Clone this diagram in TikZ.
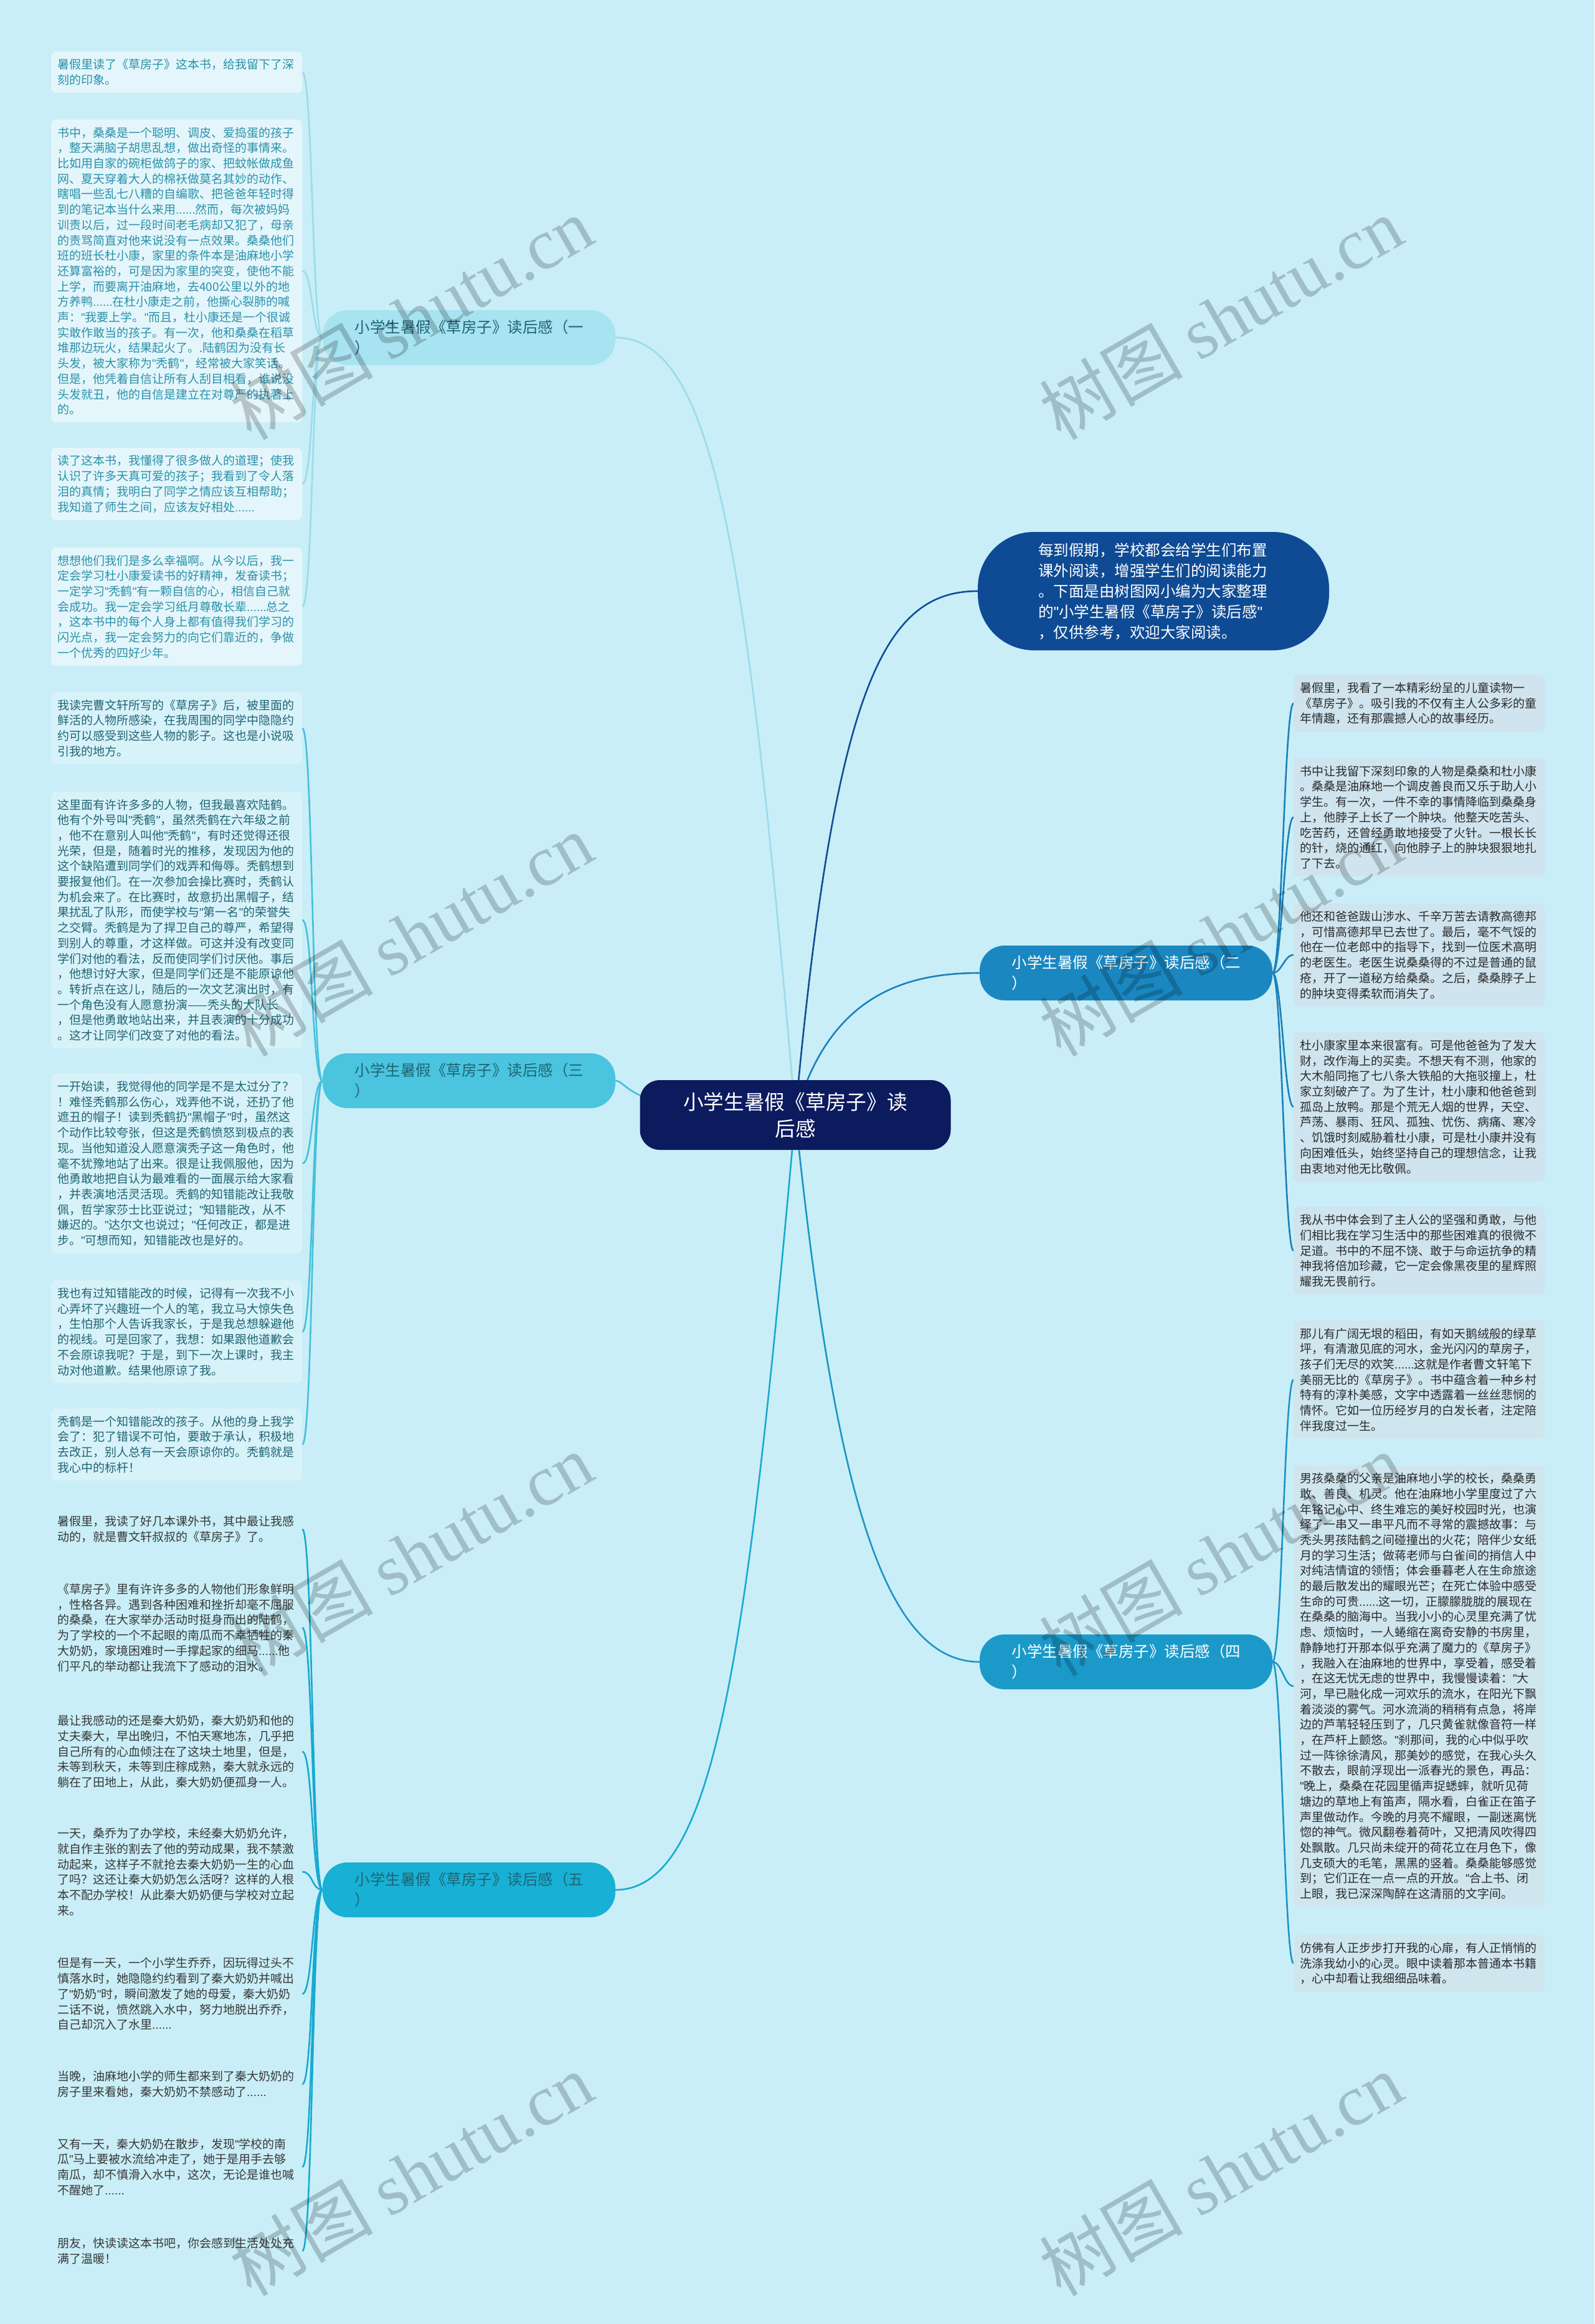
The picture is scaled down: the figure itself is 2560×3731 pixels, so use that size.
\documentclass[tikz,border=0pt]{standalone}
\usepackage{fontspec}
\setmainfont{Noto Sans CJK SC}
\newfontfamily\wmserif{Liberation Serif}
\newfontfamily\latinf{Liberation Sans}
\newcommand\q{{\latinf"}}
\newcommand\el{{\latinf......}}
\pgfdeclarelayer{bglayer}
\pgfdeclarelayer{edgelayer}
\pgfdeclarelayer{wmlayer}
\pgfsetlayers{bglayer,edgelayer,main,wmlayer}
\definecolor{bgc}{HTML}{C9EEF7}
\definecolor{fillA}{HTML}{E4F6FB}
\definecolor{textA}{HTML}{2A91AA}
\definecolor{fillC}{HTML}{D8F2F9}
\definecolor{textC}{HTML}{1F6573}
\definecolor{textE}{HTML}{383838}
\definecolor{fillB}{HTML}{CFE4EE}
\definecolor{fillD}{HTML}{CFE6EF}
\definecolor{textBD}{HTML}{2B2B2B}
\definecolor{brA}{HTML}{A7E3F1}
\definecolor{brC}{HTML}{4AC4DF}
\definecolor{brE}{HTML}{18B0D5}
\definecolor{brB}{HTML}{1A87C1}
\definecolor{brD}{HTML}{1B99C9}
\definecolor{intro}{HTML}{0E4B94}
\definecolor{cen}{HTML}{0C1A5E}
\definecolor{edA}{HTML}{9BDBEA}
\definecolor{edC}{HTML}{45C0DC}
\definecolor{edE}{HTML}{16AAD1}
\definecolor{edB}{HTML}{1A80BA}
\definecolor{edD}{HTML}{1B94C7}
\definecolor{edI}{HTML}{0F4D94}
\newcommand\leaffont{\fontsize{19}{24.7}\selectfont}
\newcommand\brfont{\fontsize{24.5}{33}\selectfont}
\newcommand\cenfont{\fontsize{32.7}{43}\selectfont}
\newcommand\wmfont{\fontsize{115}{120}\selectfont}
\begin{document}
\begin{tikzpicture}[x=1pt,y=-1pt,
  leaf/.style={anchor=west, text width=383pt, align=left, inner xsep=10pt, inner ysep=12pt, rounded corners=8pt, font=\leaffont},
  leafA/.style={leaf, fill=fillA, text=textA},
  leafC/.style={leaf, fill=fillC, text=textC},
  leafE/.style={leaf, text=textE},
  leafB/.style={leaf, fill=fillB, text=textBD},
  leafD/.style={leaf, fill=fillD, text=textBD},
  branch/.style={text width=367pt, align=left, minimum width=470pt, minimum height=88pt, rounded corners=40pt, font=\brfont, inner sep=0pt},
  edge/.style={line width=2.6pt},
  wm/.style={rotate=30, text=black, opacity=0.2, font=\wmfont, inner sep=0pt}
]
\useasboundingbox (0,0) rectangle (2560,3731);
\begin{pgfonlayer}{bglayer}
\fill[bgc] (0,0) rectangle (2560,3731);
\end{pgfonlayer}

% central and intro nodes
\node[fill=cen, text=white, font=\cenfont, align=center, minimum width=499pt, minimum height=112pt, rounded corners=32pt] (c) at (1277,1790) {小学生暑假《草房子》读\\后感};
\node[fill=intro, text=white, font=\brfont, text width=370pt, align=left, minimum width=564pt, minimum height=190pt, rounded corners=90pt, inner sep=0pt] (intro) at (1852,949) {每到假期，学校都会给学生们布置\\课外阅读，增强学生们的阅读能力\\。下面是由树图网小编为大家整理\\的\q{}小学生暑假《草房子》读后感\q{}\\，仅供参考，欢迎大家阅读。};

% branches
\node[branch, fill=brA, text=textC] (b1) at (753,542) {小学生暑假《草房子》读后感（一\\）};
\node[branch, fill=brC, text=textC] (b3) at (753,1735) {小学生暑假《草房子》读后感（三\\）};
\node[branch, fill=brE, text=textC] (b5) at (753,3034) {小学生暑假《草房子》读后感（五\\）};
\node[branch, fill=brB, text=white] (b2) at (1808,1562) {小学生暑假《草房子》读后感（二\\）};
\node[branch, fill=brD, text=white] (b4) at (1808,2668) {小学生暑假《草房子》读后感（四\\）};

% left leaves, section one
\node[leafA] (l1) at (82,116) {暑假里读了《草房子》这本书，给我留下了深\\刻的印象。};
\node[leafA] (l2) at (82,435) {书中，桑桑是一个聪明、调皮、爱捣蛋的孩子\\，整天满脑子胡思乱想，做出奇怪的事情来。\\比如用自家的碗柜做鸽子的家、把蚊帐做成鱼\\网、夏天穿着大人的棉袄做莫名其妙的动作、\\瞎唱一些乱七八糟的自编歌、把爸爸年轻时得\\到的笔记本当什么来用\el{}然而，每次被妈妈\\训责以后，过一段时间老毛病却又犯了，母亲\\的责骂简直对他来说没有一点效果。桑桑他们\\班的班长杜小康，家里的条件本是油麻地小学\\还算富裕的，可是因为家里的突变，使他不能\\上学，而要离开油麻地，去400公里以外的地\\方养鸭\el{}在杜小康走之前，他撕心裂肺的喊\\声：\q{}我要上学。\q{}而且，杜小康还是一个很诚\\实敢作敢当的孩子。有一次，他和桑桑在稻草\\堆那边玩火，结果起火了。.陆鹤因为没有长\\头发，被大家称为\q{}秃鹤\q{}，经常被大家笑话。\\但是，他凭着自信让所有人刮目相看，谁说没\\头发就丑，他的自信是建立在对尊严的执著上\\的。};
\node[leafA] (l3) at (82,777) {读了这本书，我懂得了很多做人的道理；使我\\认识了许多天真可爱的孩子；我看到了令人落\\泪的真情；我明白了同学之情应该互相帮助；\\我知道了师生之间，应该友好相处\el};
\node[leafA] (l4) at (82,974) {想想他们我们是多么幸福啊。从今以后，我一\\定会学习杜小康爱读书的好精神，发奋读书；\\一定学习\q{}秃鹤\q{}有一颗自信的心，相信自己就\\会成功。我一定会学习纸月尊敬长辈\el{}总之\\，这本书中的每个人身上都有值得我们学习的\\闪光点，我一定会努力的向它们靠近的，争做\\一个优秀的四好少年。};

% section three
\node[leafC] (l5) at (82,1169) {我读完曹文轩所写的《草房子》后，被里面的\\鲜活的人物所感染，在我周围的同学中隐隐约\\约可以感受到这些人物的影子。这也是小说吸\\引我的地方。};
\node[leafC] (l6) at (82,1477) {这里面有许许多多的人物，但我最喜欢陆鹤。\\他有个外号叫\q{}秃鹤\q{}，虽然秃鹤在六年级之前\\，他不在意别人叫他\q{}秃鹤\q{}，有时还觉得还很\\光荣，但是，随着时光的推移，发现因为他的\\这个缺陷遭到同学们的戏弄和侮辱。秃鹤想到\\要报复他们。在一次参加会操比赛时，秃鹤认\\为机会来了。在比赛时，故意扔出黑帽子，结\\果扰乱了队形，而使学校与\q{}第一名\q{}的荣誉失\\之交臂。秃鹤是为了捍卫自己的尊严，希望得\\到别人的尊重，才这样做。可这并没有改变同\\学们对他的看法，反而使同学们讨厌他。事后\\，他想讨好大家，但是同学们还是不能原谅他\\。转折点在这儿，随后的一次文艺演出时，有\\一个角色没有人愿意扮演——秃头的大队长\\，但是他勇敢地站出来，并且表演的十分成功\\。这才让同学们改变了对他的看法。};
\node[leafC] (l7) at (82,1868) {一开始读，我觉得他的同学是不是太过分了？\\！难怪秃鹤那么伤心，戏弄他不说，还扔了他\\遮丑的帽子！读到秃鹤扔\q{}黑帽子\q{}时，虽然这\\个动作比较夸张，但这是秃鹤愤怒到极点的表\\现。当他知道没人愿意演秃子这一角色时，他\\毫不犹豫地站了出来。很是让我佩服他，因为\\他勇敢地把自认为最难看的一面展示给大家看\\，并表演地活灵活现。秃鹤的知错能改让我敬\\佩，哲学家莎士比亚说过；\q{}知错能改，从不\\嫌迟的。\q{}达尔文也说过；\q{}任何改正，都是进\\步。\q{}可想而知，知错能改也是好的。};
\node[leafC] (l8) at (82,2138) {我也有过知错能改的时候，记得有一次我不小\\心弄坏了兴趣班一个人的笔，我立马大惊失色\\，生怕那个人告诉我家长，于是我总想躲避他\\的视线。可是回家了，我想：如果跟他道歉会\\不会原谅我呢？于是，到下一次上课时，我主\\动对他道歉。结果他原谅了我。};
\node[leafC] (l9) at (82,2319) {秃鹤是一个知错能改的孩子。从他的身上我学\\会了：犯了错误不可怕，要敢于承认，积极地\\去改正，别人总有一天会原谅你的。秃鹤就是\\我心中的标杆！};

% section five
\node[leafE] (l10) at (82,2455) {暑假里，我读了好几本课外书，其中最让我感\\动的，就是曹文轩叔叔的《草房子》了。};
\node[leafE] (l11) at (82,2613) {《草房子》里有许许多多的人物他们形象鲜明\\，性格各异。遇到各种困难和挫折却毫不屈服\\的桑桑，在大家举办活动时挺身而出的陆鹤，\\为了学校的一个不起眼的南瓜而不幸牺牲的秦\\大奶奶，家境困难时一手撑起家的细马\el{}他\\们平凡的举动都让我流下了感动的泪水。};
\node[leafE] (l12) at (82,2812) {最让我感动的还是秦大奶奶，秦大奶奶和他的\\丈夫秦大，早出晚归，不怕天寒地冻，几乎把\\自己所有的心血倾注在了这块土地里，但是，\\未等到秋天，未等到庄稼成熟，秦大就永远的\\躺在了田地上，从此，秦大奶奶便孤身一人。};
\node[leafE] (l13) at (82,3005) {一天，桑乔为了办学校，未经秦大奶奶允许，\\就自作主张的割去了他的劳动成果，我不禁激\\动起来，这样子不就抢去秦大奶奶一生的心血\\了吗？这还让秦大奶奶怎么活呀？这样的人根\\本不配办学校！从此秦大奶奶便与学校对立起\\来。};
\node[leafE] (l14) at (82,3201) {但是有一天，一个小学生乔乔，因玩得过头不\\慎落水时，她隐隐约约看到了秦大奶奶并喊出\\了\q{}奶奶\q{}时，瞬间激发了她的母爱，秦大奶奶\\二话不说，愤然跳入水中，努力地脱出乔乔，\\自己却沉入了水里\el};
\node[leafE] (l15) at (82,3346) {当晚，油麻地小学的师生都来到了秦大奶奶的\\房子里来看她，秦大奶奶不禁感动了\el};
\node[leafE] (l16) at (82,3479) {又有一天，秦大奶奶在散步，发现\q{}学校的南\\瓜\q{}马上要被水流给冲走了，她于是用手去够\\南瓜，却不慎滑入水中，这次，无论是谁也喊\\不醒她了\el};
\node[leafE] (l17) at (82,3614) {朋友，快读读这本书吧，你会感到生活处处充\\满了温暖！};

% right leaves, section two
\node[leafB] (r1) at (2077,1129) {暑假里，我看了一本精彩纷呈的儿童读物一\\《草房子》。吸引我的不仅有主人公多彩的童\\年情趣，还有那震撼人心的故事经历。};
\node[leafB] (r2) at (2077,1312) {书中让我留下深刻印象的人物是桑桑和杜小康\\。桑桑是油麻地一个调皮善良而又乐于助人小\\学生。有一次，一件不幸的事情降临到桑桑身\\上，他脖子上长了一个肿块。他整天吃苦头、\\吃苦药，还曾经勇敢地接受了火针。一根长长\\的针，烧的通红，向他脖子上的肿块狠狠地扎\\了下去。};
\node[leafB] (r3) at (2077,1533) {他还和爸爸跋山涉水、千辛万苦去请教高德邦\\，可惜高德邦早已去世了。最后，毫不气馁的\\他在一位老郎中的指导下，找到一位医术高明\\的老医生。老医生说桑桑得的不过是普通的鼠\\疮，开了一道秘方给桑桑。之后，桑桑脖子上\\的肿块变得柔软而消失了。};
\node[leafB] (r4) at (2077,1777) {杜小康家里本来很富有。可是他爸爸为了发大\\财，改作海上的买卖。不想天有不测，他家的\\大木船同拖了七八条大铁船的大拖驳撞上，杜\\家立刻破产了。为了生计，杜小康和他爸爸到\\孤岛上放鸭。那是个荒无人烟的世界，天空、\\芦荡、暴雨、狂风、孤独、忧伤、病痛、寒冷\\、饥饿时刻威胁着杜小康，可是杜小康并没有\\向困难低头，始终坚持自己的理想信念，让我\\由衷地对他无比敬佩。};
\node[leafB] (r5) at (2077,2008) {我从书中体会到了主人公的坚强和勇敢，与他\\们相比我在学习生活中的那些困难真的很微不\\足道。书中的不屈不饶、敢于与命运抗争的精\\神我将倍加珍藏，它一定会像黑夜里的星辉照\\耀我无畏前行。};

% section four
\node[leafD] (r6) at (2077,2215) {那儿有广阔无垠的稻田，有如天鹅绒般的绿草\\坪，有清澈见底的河水，金光闪闪的草房子，\\孩子们无尽的欢笑\el{}这就是作者曹文轩笔下\\美丽无比的《草房子》。书中蕴含着一种乡村\\特有的淳朴美感，文字中透露着一丝丝悲悯的\\情怀。它如一位历经岁月的白发长者，注定陪\\伴我度过一生。};
\node[leafD] (r7) at (2077,2707) {男孩桑桑的父亲是油麻地小学的校长，桑桑勇\\敢、善良、机灵。他在油麻地小学里度过了六\\年铭记心中、终生难忘的美好校园时光，也演\\绎了一串又一串平凡而不寻常的震撼故事：与\\秃头男孩陆鹤之间碰撞出的火花；陪伴少女纸\\月的学习生活；做蒋老师与白雀间的捎信人中\\对纯洁情谊的领悟；体会垂暮老人在生命旅途\\的最后散发出的耀眼光芒；在死亡体验中感受\\生命的可贵\el{}这一切，正朦朦胧胧的展现在\\在桑桑的脑海中。当我小小的心灵里充满了忧\\虑、烦恼时，一人蜷缩在离奇安静的书房里，\\静静地打开那本似乎充满了魔力的《草房子》\\，我融入在油麻地的世界中，享受着，感受着\\，在这无忧无虑的世界中，我慢慢读着：\q{}大\\河，早已融化成一河欢乐的流水，在阳光下飘\\着淡淡的雾气。河水流淌的稍稍有点急，将岸\\边的芦苇轻轻压到了，几只黄雀就像音符一样\\，在芦杆上颤悠。\q{}刹那间，我的心中似乎吹\\过一阵徐徐清风，那美妙的感觉，在我心头久\\不散去，眼前浮现出一派春光的景色，再品：\\\q{}晚上，桑桑在花园里循声捉蟋蟀，就听见荷\\塘边的草地上有笛声，隔水看，白雀正在笛子\\声里做动作。今晚的月亮不耀眼，一副迷离恍\\惚的神气。微风翻卷着荷叶，又把清风吹得四\\处飘散。几只尚未绽开的荷花立在月色下，像\\几支硕大的毛笔，黑黑的竖着。桑桑能够感觉\\到；它们正在一点一点的开放。\q{}合上书、闭\\上眼，我已深深陶醉在这清丽的文字间。};
\node[leafD] (r8) at (2077,3152) {仿佛有人正步步打开我的心扉，有人正悄悄的\\洗涤我幼小的心灵。眼中读着那本普通本书籍\\，心中却看让我细细品味着。};

% connectors
\begin{pgfonlayer}{edgelayer}
\draw[edge, edA] (c.center) .. controls (1200,900) and (1150,542) .. (b1.east);
\draw[edge, edC] (c.center) .. controls (1000,1790) and (1010,1735) .. (b3.east);
\draw[edge, edE] (c.center) .. controls (1200,2650) and (1150,3034) .. (b5.east);
\draw[edge, edI] (c.center) .. controls (1340,1100) and (1420,949) .. (intro.west);
\draw[edge, edB] (c.center) .. controls (1330,1600) and (1450,1562) .. (b2.west);
\draw[edge, edD] (c.center) .. controls (1340,2400) and (1420,2668) .. (b4.west);
\foreach \l in {l1,l2,l3,l4}
  \draw[edge, edA] (b1.west) .. controls +(-17,0) and +(17,0) .. (\l.east);
\foreach \l in {l5,l6,l7,l8,l9}
  \draw[edge, edC] (b3.west) .. controls +(-17,0) and +(17,0) .. (\l.east);
\foreach \l in {l10,l11,l12,l13,l14,l15,l16,l17}
  \draw[edge, edE] (b5.west) .. controls +(-17,0) and +(17,0) .. (\l.east);
\foreach \r in {r1,r2,r3,r4,r5}
  \draw[edge, edB] (b2.east) .. controls +(15,0) and +(-15,0) .. (\r.west);
\foreach \r in {r6,r7,r8}
  \draw[edge, edD] (b4.east) .. controls +(15,0) and +(-15,0) .. (\r.west);
\end{pgfonlayer}

% watermarks
\begin{pgfonlayer}{wmlayer}
\node[wm] (w1) at (660,510) {树图 {\wmserif shutu.cn}};
\node[wm] (w2) at (660,1500) {树图 {\wmserif shutu.cn}};
\node[wm] (w3) at (660,2495) {树图 {\wmserif shutu.cn}};
\node[wm] (w4) at (660,3490) {树图 {\wmserif shutu.cn}};
\node[wm] (w5) at (1960,510) {树图 {\wmserif shutu.cn}};
\node[wm] (w6) at (1960,1500) {树图 {\wmserif shutu.cn}};
\node[wm] (w7) at (1960,2495) {树图 {\wmserif shutu.cn}};
\node[wm] (w8) at (1960,3490) {树图 {\wmserif shutu.cn}};
\end{pgfonlayer}
\end{tikzpicture}
\end{document}
